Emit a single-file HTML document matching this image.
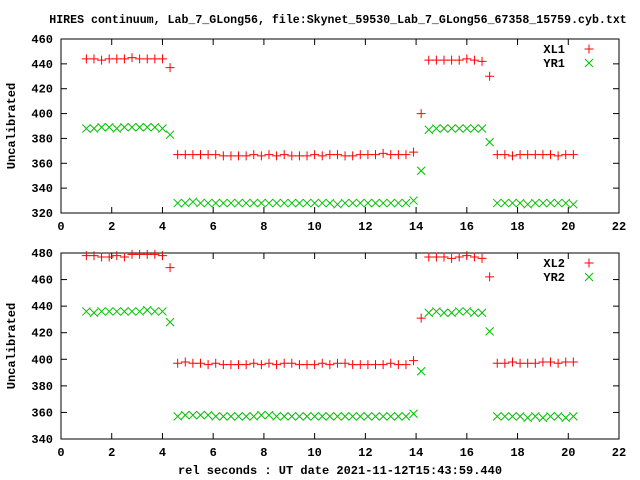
<!DOCTYPE html>
<html><head><meta charset="utf-8"><style>
html,body{margin:0;padding:0;background:#fff}
svg{display:block}
text{font-family:"Liberation Mono","DejaVu Sans Mono",monospace;font-size:12px;font-weight:bold;fill:#000}
</style></head><body>
<svg id="chart" width="640" height="480" viewBox="0 0 640 480">
<rect width="640" height="480" fill="#fff"/>
<text x="338" y="23" text-anchor="middle" style="font-size:11.6px">HIRES continuum, Lab_7_GLong56, file:Skynet_59530_Lab_7_GLong56_67358_15759.cyb.txt</text>
<text x="340" y="474" text-anchor="middle">rel seconds : UT date 2021-11-12T15:43:59.440</text>
</svg>
<script>
const times=[1.0,1.3,1.6,1.9,2.2,2.5,2.8,3.1,3.4,3.7,4.0,4.3,
4.6,4.9,5.2,5.5,5.8,6.1,6.4,6.7,7.0,7.3,7.6,7.9,8.2,8.5,8.8,9.1,9.4,9.7,10.0,10.3,10.6,10.9,11.2,11.5,11.8,12.1,12.4,12.7,13.0,13.3,13.6,13.9,
14.2,14.5,14.8,15.1,15.4,15.7,16.0,16.3,16.6,16.9,
17.2,17.5,17.8,18.1,18.4,18.7,19.0,19.3,19.6,19.9,20.2];
const xl1=[444,444,443,444,444,444,445,444,444,444,444,437,
367,367,367,367,367,367,366,366,366,366,367,366,367,366,367,366,366,366,367,366,367,367,366,366,367,367,367,368,367,367,367,369,
400,443,443,443,443,443,444,443,442,430,
367,367,366,367,367,367,367,367,366,367,367];
const yr1=[388,388,389,389,388,389,389,389,389,389,388,383,
328,328,329,328,328,328,328,328,328,328,328,328,328,328,328,328,328,328,328,328,328,327,328,328,328,328,328,328,328,328,328,330,
354,387,388,388,388,388,388,388,388,377,
328,328,328,328,327,328,328,328,328,328,327];
const xl2=[478,478,477,477,478,477,479,479,479,479,478,469,
397,398,397,397,396,397,396,396,396,396,397,396,397,396,397,397,396,396,396,397,396,397,397,396,396,396,396,396,397,396,396,399,
431,477,477,477,476,477,478,477,476,462,
397,397,398,397,397,397,398,398,397,398,398];
const yr2=[436,435,436,436,436,436,436,436,437,436,436,428,
357,358,358,358,358,357,357,357,357,357,357,358,358,357,357,357,357,357,357,357,357,357,357,357,357,357,357,357,357,357,357,359,
391,435,436,435,435,436,436,435,435,421,
357,357,357,357,356,357,356,357,357,356,357];
const xTicks=[0,2,4,6,8,10,12,14,16,18,20,22];
const yTicks1=[320,340,360,380,400,420,440,460];
const yTicks2=[340,360,380,400,420,440,460,480];

const NS="http://www.w3.org/2000/svg";
const svg=document.getElementById('chart');
function mk(tag,attrs,parent){const e=document.createElementNS(NS,tag);for(const k in attrs)e.setAttribute(k,attrs[k]);(parent||svg).appendChild(e);return e;}

function panel(idx,top,bottom,yTicks,sA,sB,nameA,nameB){
  const L=61,R=619,xmin=0,xmax=22,ymin=yTicks[0],ymax=yTicks[yTicks.length-1];
  const sx=v=>L+(v-xmin)/(xmax-xmin)*(R-L);
  const sy=v=>bottom-(v-ymin)/(ymax-ymin)*(bottom-top);
  const g=mk('g',{});
  
  
  const fr=mk('rect',{x:L,y:top,width:R-L,height:bottom-top,fill:'none',stroke:'#000','stroke-width':1},g);
  
  
  xTicks.forEach(t=>{
    const x=sx(t);
    mk('line',{x1:x,y1:bottom,x2:x,y2:bottom-6,stroke:'#000'},g);
    mk('line',{x1:x,y1:top,x2:x,y2:top+6,stroke:'#000'},g);
    const tx=mk('text',{x:x,y:bottom+17,'text-anchor':'middle'},g);
    tx.textContent=t;
    
    
  });
  yTicks.forEach(t=>{
    const y=sy(t);
    mk('line',{x1:L,y1:y,x2:L+6,y2:y,stroke:'#000'},g);
    mk('line',{x1:R,y1:y,x2:R-6,y2:y,stroke:'#000'},g);
    const tx=mk('text',{x:53,y:y+4,'text-anchor':'end'},g);
    tx.textContent=t;
    
    
  });
  const cy=(top+bottom)/2;
  const yl=mk('text',{x:0,y:0,'text-anchor':'middle',transform:'translate(15,'+cy+') rotate(-90)'},g);
  yl.textContent='Uncalibrated';
  
  
  function plus(x,y,parent){mk('path',{d:`M${x-4.5},${y}h9M${x},${y-4.5}v9`,stroke:'#ff0000','stroke-width':1,fill:'none'},parent);}
  function cross(x,y,parent){mk('path',{d:`M${x-4},${y-4}l8,8M${x-4},${y+4}l8,-8`,stroke:'#00c000','stroke-width':1,fill:'none'},parent);}
  const gA=mk('g',{},g);
  
  
  const gB=mk('g',{},g);
  
  
  times.forEach((t,i)=>{plus(sx(t),sy(sA[i]),gA);cross(sx(t),sy(sB[i]),gB);});
  const lg=mk('g',{},g);
  
  
  const t1=mk('text',{x:565,y:top+14,'text-anchor':'end'},lg);t1.textContent=nameA;
  
  
  plus(589,top+10,lg);
  const t2=mk('text',{x:565,y:top+28,'text-anchor':'end'},lg);t2.textContent=nameB;
  
  
  cross(589,top+24,lg);
}
panel(1,39,213,yTicks1,xl1,yr1,'XL1','YR1');
panel(2,253,439,yTicks2,xl2,yr2,'XL2','YR2');
</script>
</body></html>
